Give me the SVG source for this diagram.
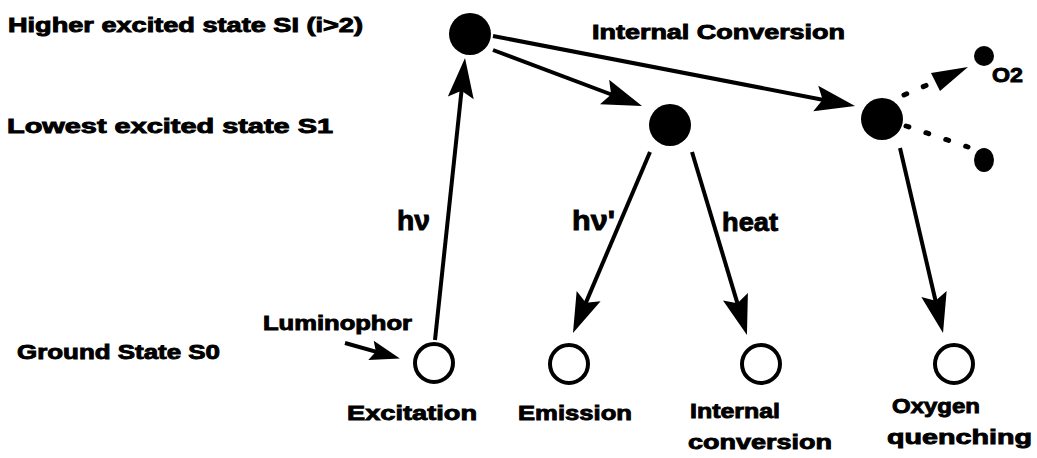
<svg xmlns="http://www.w3.org/2000/svg" width="1037" height="458" viewBox="0 0 1037 458">
<style>
text{font-family:"Liberation Sans",Arial,sans-serif;font-weight:bold;fill:#000;stroke:#000;stroke-width:0.9;}
.t20{font-size:20px}
.t21{font-size:21px}
.t26{font-size:26px}
.hv{font-size:28px}
.sm{font-size:21px}
.line{stroke:#000;stroke-width:4;fill:none}
.dash{stroke:#000;stroke-width:5;fill:none;stroke-dasharray:3 18;stroke-linecap:round}
.filled{fill:#000}
.open{fill:#fff;stroke:#000;stroke-width:4}
</style>
<defs>
<marker id="ah" markerUnits="userSpaceOnUse" markerWidth="44" markerHeight="30" viewBox="0 -15 44 30" refX="20" refY="0" orient="auto" overflow="visible">
<path d="M40,0 L0,-13 L7,0 L0,13 Z" fill="#000"/>
</marker>
<marker id="ahs" markerUnits="userSpaceOnUse" markerWidth="34" markerHeight="24" viewBox="0 -12 34 24" refX="14" refY="0" orient="auto" overflow="visible">
<path d="M30,0 L0,-10 L5,0 L0,10 Z" fill="#000"/>
</marker>
</defs>
<rect width="1037" height="458" fill="#fff"/>
<g id="labels">
<text class="t20" x="8" y="32" textLength="355" lengthAdjust="spacingAndGlyphs">Higher excited state SI (i&gt;2)</text>
<text class="t20" x="7" y="133" textLength="326" lengthAdjust="spacingAndGlyphs">Lowest excited state S1</text>
<text class="t20" x="17" y="359" textLength="203" lengthAdjust="spacingAndGlyphs">Ground State S0</text>
<text class="t20" x="592" y="39" textLength="253" lengthAdjust="spacingAndGlyphs">Internal Conversion</text>
</g>
<g id="connectors">
<path class="line" d="M435,340 L462.9,77.9" marker-end="url(#ah)"/>
<path class="line" d="M493,50 L623.3,99" marker-end="url(#ah)"/>
<path class="line" d="M493,36 L835.4,102.2" marker-end="url(#ah)"/>
<path class="line" d="M650,152 L580.8,314.6" marker-end="url(#ah)"/>
<path class="line" d="M692,152 L741.2,315.8" marker-end="url(#ah)"/>
<path class="line" d="M900,148 L938.5,313.5" marker-end="url(#ah)"/>
<path class="line" d="M345,343 L384.5,354.2" marker-end="url(#ahs)"/>
<path class="dash" d="M904,95 L934,82"/>
<polygon points="968,67 931,73 940,91" fill="#000"/>
<path class="dash" d="M906,126 L968,147"/>
<text class="hv" x="397" y="230" textLength="33" lengthAdjust="spacingAndGlyphs">hν</text>
<text class="hv" x="572" y="230" textLength="43" lengthAdjust="spacingAndGlyphs">hν'</text>
<text class="t26" x="722" y="231" textLength="56" lengthAdjust="spacingAndGlyphs">heat</text>
<text class="t20" x="263" y="330" textLength="149" lengthAdjust="spacingAndGlyphs">Luminophor</text>
</g>
<g id="node-higher"><circle class="filled" cx="470" cy="34" r="21"/></g>
<g id="node-s1-emit"><circle class="filled" cx="670" cy="125" r="21"/></g>
<g id="node-s1-quench"><circle class="filled" cx="882" cy="119" r="21"/></g>
<g id="node-o2"><circle class="filled" cx="984" cy="56" r="10"/><text class="sm" x="992" y="82" textLength="31" lengthAdjust="spacingAndGlyphs">O2</text></g>
<g id="node-o2b"><ellipse class="filled" cx="984" cy="160" rx="10" ry="12"/></g>
<g id="node-excitation"><circle class="open" cx="434" cy="363" r="19"/><text class="t21" x="347" y="420" textLength="130" lengthAdjust="spacingAndGlyphs">Excitation</text></g>
<g id="node-emission"><circle class="open" cx="569" cy="364" r="19"/><text class="t21" x="518" y="420" textLength="114" lengthAdjust="spacingAndGlyphs">Emission</text></g>
<g id="node-ic"><circle class="open" cx="761" cy="364" r="19"/><text class="t21" x="690" y="418" textLength="90" lengthAdjust="spacingAndGlyphs">Internal</text><text class="t21" x="688" y="449" textLength="144" lengthAdjust="spacingAndGlyphs">conversion</text></g>
<g id="node-oq"><circle class="open" cx="954" cy="364" r="19"/><text class="t21" x="892" y="413" textLength="88" lengthAdjust="spacingAndGlyphs">Oxygen</text><text class="t21" x="887" y="444" textLength="145" lengthAdjust="spacingAndGlyphs">quenching</text></g>
</svg>
